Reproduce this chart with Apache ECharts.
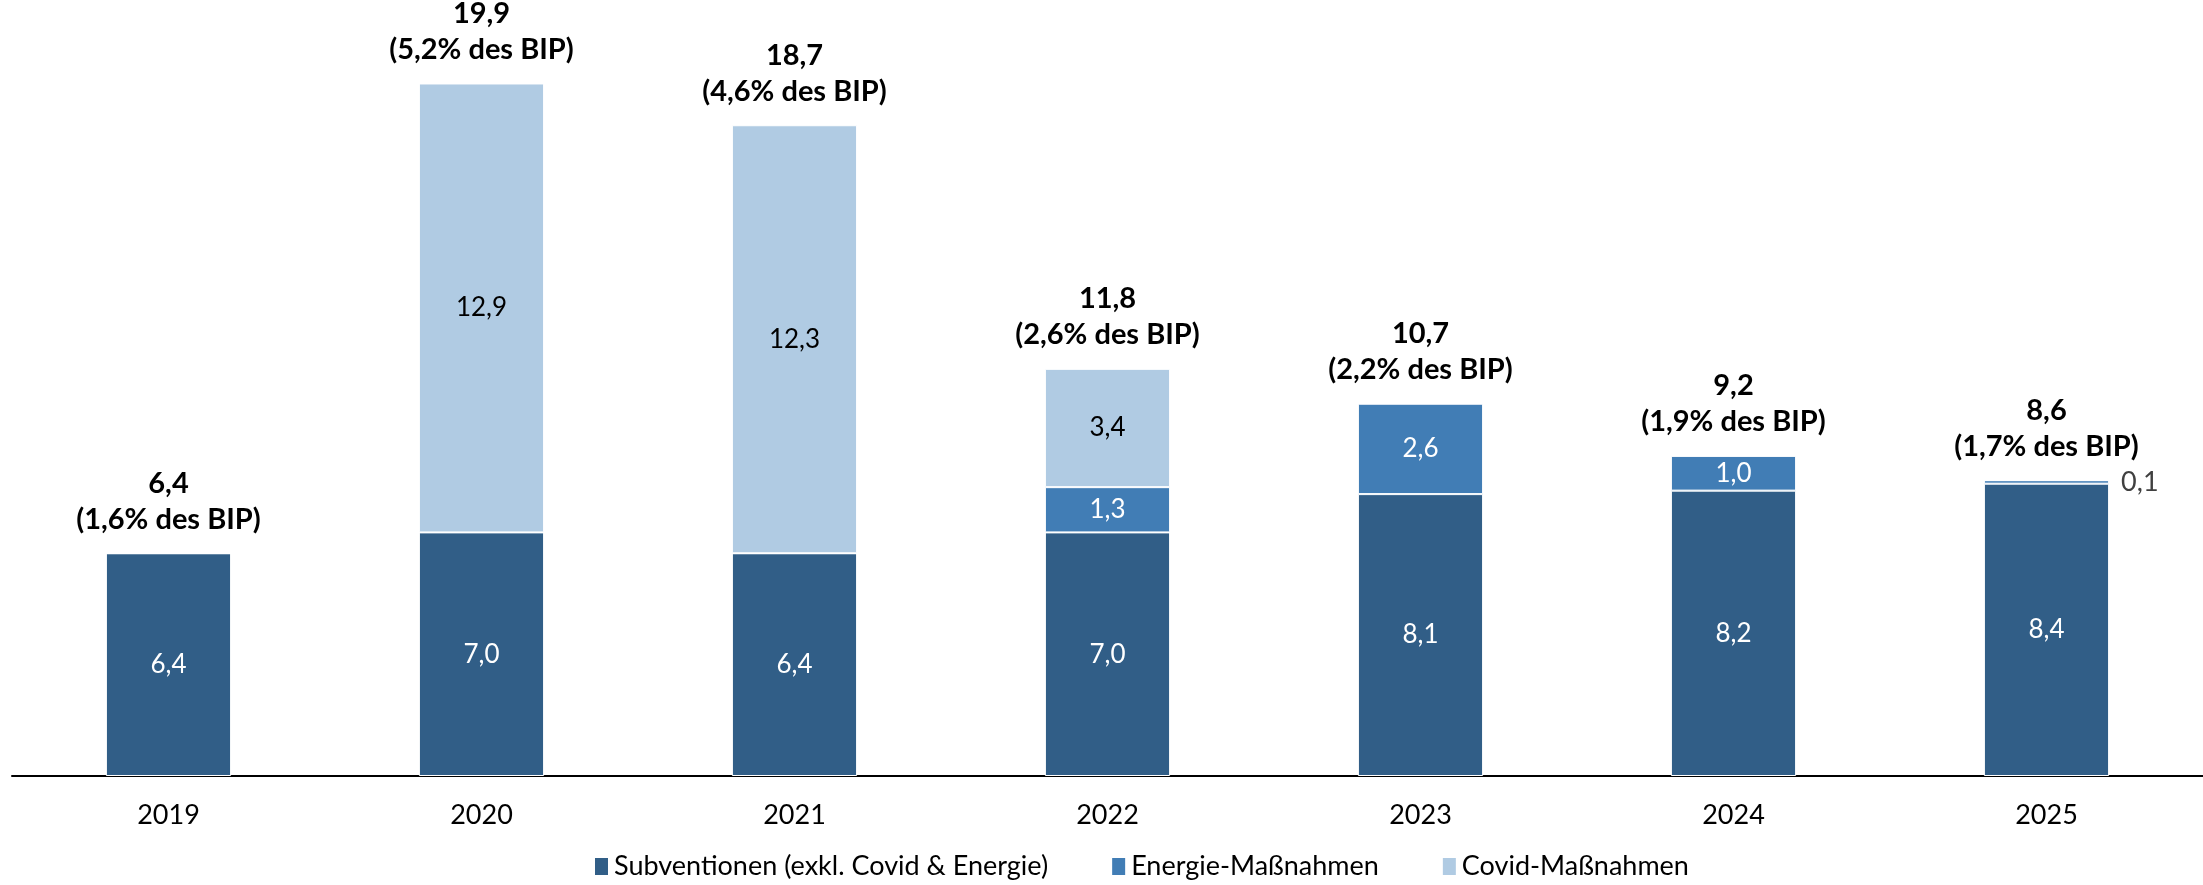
<!DOCTYPE html>
<html>
<head>
<meta charset="utf-8">
<script src="https://cdn.jsdelivr.net/npm/echarts@6/dist/echarts.min.js"></script>
<style>
  html, body { margin: 0; padding: 0; background: #fff; }
  #chart { width: 2203px; height: 885px; }
</style>
</head>
<body>
<div id="chart"></div>
<script>
  // Daten (Mrd. €)
  const years = ['2019', '2020', '2021', '2022', '2023', '2024', '2025'];
  const subventionen = [6.4, 7.0, 6.4, 7.0, 8.1, 8.2, 8.4];
  const energie = [0, 0, 0, 1.3, 2.6, 1.0, 0.1];
  const covid = [0, 12.9, 12.3, 3.4, 0, 0, 0];
  const gesamt = ['6,4', '19,9', '18,7', '11,8', '10,7', '9,2', '8,6'];
  const bipAnteil = ['1,6%', '5,2%', '4,6%', '2,6%', '2,2%', '1,9%', '1,7%'];

  const fontFam = 'Lato, "Open Sans", sans-serif';
  const fmt = v => v.toFixed(1).replace('.', ',');

  let myChart = echarts.init(document.getElementById('chart'));

  const innerLabel = {
    show: true,
    position: 'inside',
    color: '#fff',
    fontSize: 26,
    fontFamily: fontFam,
    formatter: p => fmt(p.value)
  };

  myChart.setOption({
    animation: false,
    grid: { left: 12, right: 0, top: 80, bottom: 109 },
    legend: {
      data: ['Subventionen (exkl. Covid & Energie)', 'Energie-Maßnahmen', 'Covid-Maßnahmen'],
      left: 588,
      bottom: 0,
      itemWidth: 15,
      itemHeight: 19,
      itemGap: 62,
      icon: 'rect',
      textStyle: { fontSize: 27, fontFamily: fontFam, color: '#000' }
    },
    xAxis: {
      type: 'category',
      data: years,
      axisLine: { lineStyle: { color: '#000', width: 2 } },
      axisTick: { show: false },
      axisLabel: { fontSize: 27, fontFamily: fontFam, color: '#000', margin: 26 }
    },
    yAxis: {
      type: 'value',
      min: 0,
      max: 20,
      show: false,
      splitLine: { show: false }
    },
    series: [
      {
        name: 'Subventionen (exkl. Covid & Energie)',
        type: 'bar',
        stack: 'a',
        barWidth: '40%',
        color: '#315E87',
        itemStyle: { borderColor: '#fff', borderWidth: 1 },
        label: innerLabel,
        data: subventionen
      },
      {
        name: 'Energie-Maßnahmen',
        type: 'bar',
        stack: 'a',
        color: '#417DB5',
        itemStyle: { borderColor: '#fff', borderWidth: 1 },
        label: innerLabel,
        data: energie.map(v => {
          if (v === 0) return { value: v, label: { show: false } };
          if (v < 0.5) return {
            value: v,
            label: { show: true, position: 'right', color: '#404040', distance: 12, fontSize: 27 }
          };
          return v;
        })
      },
      {
        name: 'Covid-Maßnahmen',
        type: 'bar',
        stack: 'a',
        color: '#B0CBE3',
        itemStyle: { borderColor: '#fff', borderWidth: 1 },
        label: Object.assign({}, innerLabel, { color: '#000' }),
        data: covid.map(v => v === 0 ? { value: v, label: { show: false } } : v)
      },
      {
        name: 'Gesamt',
        type: 'bar',
        stack: 'a',
        data: years.map(() => 0),
        label: {
          show: true,
          position: 'top',
          distance: 16,
          fontFamily: fontFam,
          fontSize: 29,
          fontWeight: 'bold',
          color: '#000',
          lineHeight: 36,
          formatter: p => gesamt[p.dataIndex] + '\n(' + bipAnteil[p.dataIndex] + ' des BIP)'
        }
      }
    ]
  });
</script>
</body>
</html>
